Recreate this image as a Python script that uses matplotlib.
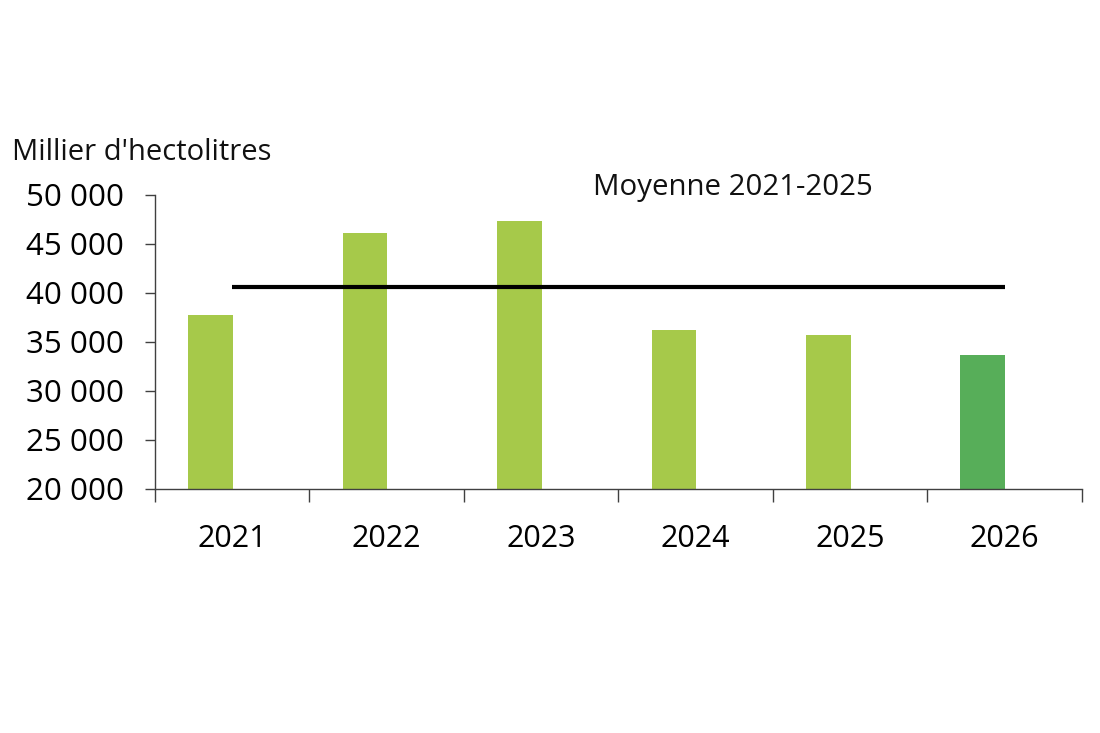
import numpy as np
import matplotlib
matplotlib.use("Agg")
import matplotlib.pyplot as plt
from matplotlib.ticker import FuncFormatter, FixedLocator

years = ["2021", "2022", "2023", "2024", "2025", "2026"]
volumes = [37750, 46100, 47300, 36200, 35700, 33700]
bar_colors = ["#A6C94A", "#A6C94A", "#A6C94A", "#A6C94A", "#A6C94A", "#57AE59"]
average_label = "Moyenne 2021-2025"
average_value = float(np.mean(volumes[:5]))
y_ticks = [20000, 25000, 30000, 35000, 40000, 45000, 50000]

plt.rcParams['font.family'] = ['Open Sans', 'DejaVu Sans']

fig = plt.figure(figsize=(11, 7.33), dpi=100)
ax = fig.add_axes([0.1409, 0.3329, 0.8425, 0.4011])

x = np.arange(len(years))
offset = -0.14
width = 0.29
ax.bar(x + offset, [v - 20000 for v in volumes], bottom=20000, width=width,
       color=bar_colors, zorder=2)
ax.plot([x[0], x[-1]], [average_value, average_value], color="black", lw=3,
        zorder=3, solid_capstyle="butt")

ax.set_xlim(-0.5, len(years) - 0.5)
ax.set_ylim(20000, 50000)
ax.set_yticks(y_ticks)
ax.yaxis.set_major_formatter(FuncFormatter(lambda v, p: f"{int(v):,}".replace(",", " ")))

ax.set_xticks(x)
ax.set_xticklabels(years)
ax.xaxis.set_minor_locator(FixedLocator(np.arange(-0.5, len(years), 1.0)))
ax.tick_params(axis="x", which="major", length=0, pad=25, labelsize=22)
ax.tick_params(axis="x", which="minor", length=9, width=1, color="#404040", direction="out")
ax.tick_params(axis="y", which="major", length=7.5, width=1, color="#404040",
               direction="out", pad=15, labelsize=22.5)

for s in ["top", "right"]:
    ax.spines[s].set_visible(False)
for s in ["left", "bottom"]:
    ax.spines[s].set_color("#404040")
    ax.spines[s].set_linewidth(1)

fig.text(12 / 1100, 1 - 160 / 733, "Millier d'hectolitres", fontsize=21,
         ha="left", va="baseline", color="#111111")
fig.text(733 / 1100, 1 - 195 / 733, average_label, fontsize=21.2,
         ha="center", va="baseline", color="#111111")

fig.savefig("out.png", dpi=100, facecolor="white")
